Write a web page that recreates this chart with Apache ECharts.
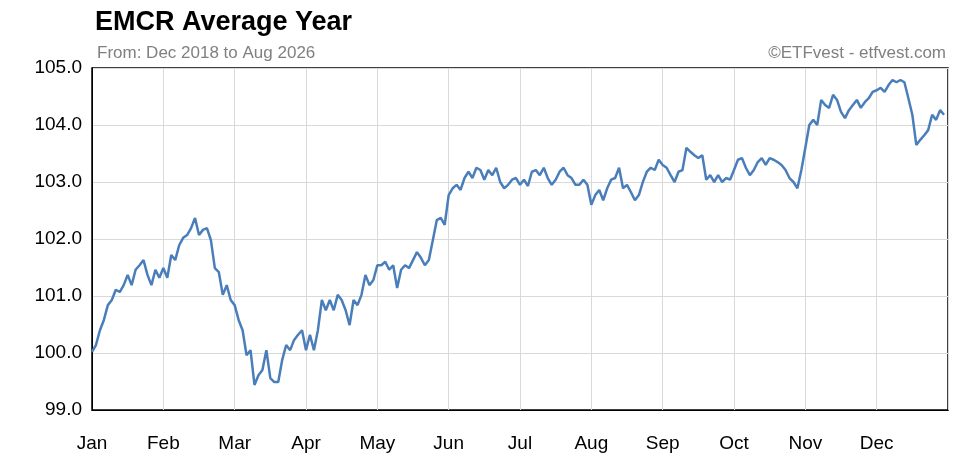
<!DOCTYPE html><html><head><meta charset="utf-8">
<script src="https://cdn.jsdelivr.net/npm/echarts@6/dist/echarts.min.js"></script>
<style>html,body{margin:0;background:#fff}#c{width:965px;height:465px}</style></head><body><div id="c"></div><script>
const months=['Jan','Feb','Mar','Apr','May','Jun','Jul','Aug','Sep','Oct','Nov','Dec'];
const yTicks=[99,100,101,102,103,104,105];
const jan=[100.02,100.14,100.40,100.58,100.84,100.93,101.11,101.07,101.19,101.37,101.19,101.46,101.54,101.63,101.37,101.19,101.46,101.32];
const feb=[101.49,101.32,101.72,101.63,101.89,102.02,102.07,102.19,102.37,102.07,102.16,102.19,101.98,101.49,101.42,101.02,101.19,100.93];
const mar=[100.84,100.58,100.40,99.96,100.05,99.44,99.61,99.70,100.05,99.56,99.49,99.49,99.88,100.14,100.05,100.23,100.32,100.40];
const apr=[100.05,100.32,100.05,100.40,100.93,100.75,100.93,100.75,101.02,100.93,100.75,100.49,100.93,100.84,101.02,101.37,101.19,101.28];
const may=[101.54,101.54,101.60,101.46,101.54,101.14,101.46,101.54,101.49,101.63,101.77,101.67,101.54,101.63,101.98,102.33,102.37,102.25];
const jun=[102.77,102.89,102.95,102.86,103.07,103.18,103.07,103.25,103.21,103.04,103.21,103.12,103.25,103.00,102.89,102.95,103.04,103.07];
const jul=[102.95,103.04,102.93,103.18,103.21,103.12,103.25,103.07,102.95,103.04,103.18,103.25,103.12,103.07,102.95,102.95,103.04,102.95];
const aug=[102.60,102.77,102.86,102.68,102.89,103.04,103.07,103.25,102.89,102.95,102.82,102.68,102.77,103.00,103.18,103.25,103.21,103.39];
const sep=[103.30,103.25,103.12,103.00,103.18,103.21,103.60,103.53,103.47,103.42,103.47,103.04,103.12,103.00,103.12,103.00,103.07,103.04];
const oct=[103.21,103.39,103.42,103.25,103.12,103.21,103.35,103.42,103.30,103.42,103.39,103.35,103.30,103.21,103.07,103.00,102.89,103.21];
const nov=[103.60,104.00,104.09,104.00,104.44,104.35,104.30,104.53,104.44,104.23,104.12,104.26,104.35,104.44,104.30,104.40,104.47,104.58];
const dec=[104.61,104.65,104.58,104.70,104.79,104.75,104.79,104.75,104.47,104.18,103.65,103.74,103.82,103.91,104.18,104.09,104.26,104.18];
const values=[].concat(jan,feb,mar,apr,may,jun,jul,aug,sep,oct,nov,dec);
const data=values.map((v,i)=>[i,v]);
const ch=echarts.init(document.getElementById('c'));
ch.setOption({animation:false,
title:[{text:'EMCR Average Year',left:90,top:4,textStyle:{fontFamily:'Liberation Sans',fontSize:27,fontWeight:'bold',color:'#000'}},
{text:'From: Dec 2018 to Aug 2026',left:92,top:40,textStyle:{fontFamily:'Liberation Sans',fontSize:17,fontWeight:'normal',color:'#808080'}},
{text:'©ETFvest - etfvest.com',right:14,top:40,textStyle:{fontFamily:'Liberation Sans',fontSize:17,fontWeight:'normal',color:'#808080'}}],
grid:{left:92,right:17,top:68,bottom:55,show:true,borderColor:'#000',borderWidth:1.5},
xAxis:{type:'value',min:0,max:216,interval:18,axisLine:{lineStyle:{color:'#000'}},axisTick:{show:false},
splitLine:{lineStyle:{color:'#d9d9d9'}},
axisLabel:{fontFamily:'Liberation Sans',fontSize:19,color:'#000',margin:24,showMaxLabel:false,formatter:v=>months[v/18]||''}},
yAxis:{type:'value',min:yTicks[0],max:yTicks[yTicks.length-1],interval:1,axisLine:{show:true,lineStyle:{color:'#000'}},axisTick:{show:false},
splitLine:{lineStyle:{color:'#d9d9d9'}},
axisLabel:{fontFamily:'Liberation Sans',fontSize:19,color:'#000',margin:10,formatter:v=>v.toFixed(1)}},
series:[{type:'line',data:data,showSymbol:false,lineStyle:{color:'#4a7ebb',width:2.5}}]});
</script></body></html>
